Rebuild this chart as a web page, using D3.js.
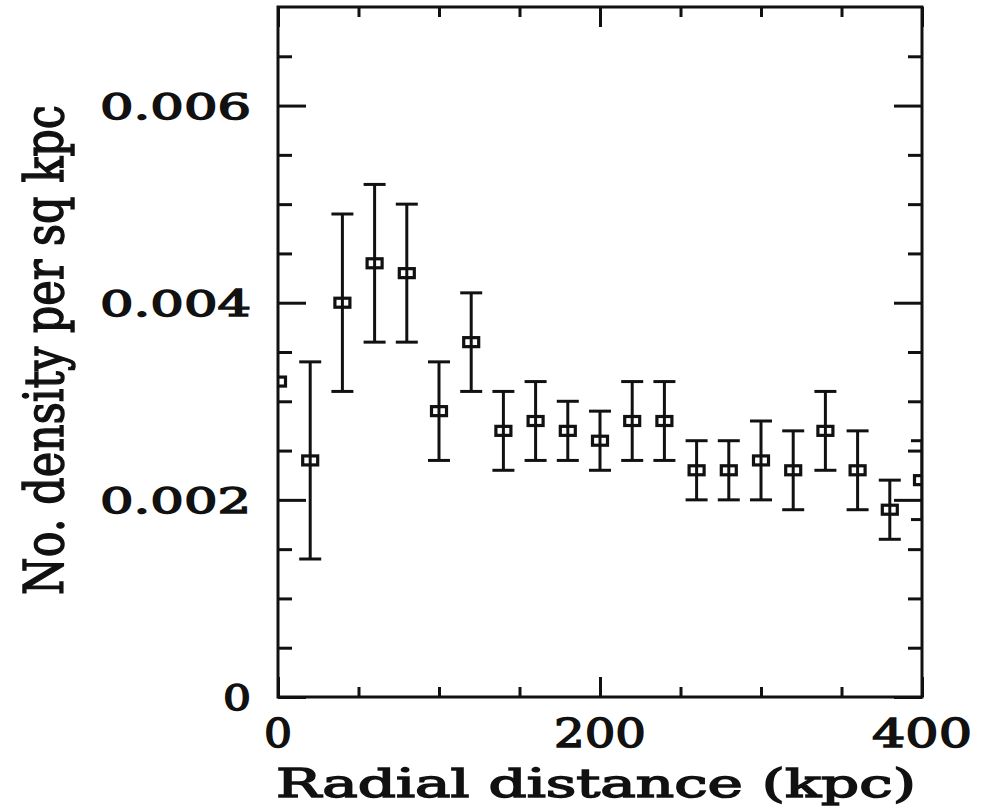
<!DOCTYPE html>
<html>
<head>
<meta charset="utf-8">
<script src="https://cdn.jsdelivr.net/npm/d3@7"></script>
<style>
  html, body { margin: 0; padding: 0; background: #fff; }
  svg { display: block; }
</style>
</head>
<body>
<svg id="chart" width="996" height="811"></svg>
<script>
// ---- data ----
const radius   = [0, 20, 40, 60, 80, 100, 120, 140, 160, 180, 200, 220, 240, 260, 280, 300, 320, 340, 360, 380, 400];
const density  = [0.0032, 0.0024, 0.0040, 0.0044, 0.0043, 0.0029, 0.0036, 0.0027, 0.0028, 0.0027, 0.0026, 0.0028, 0.0028, 0.0023, 0.0023, 0.0024, 0.0023, 0.0027, 0.0023, 0.0019, 0.0022];
const errUp    = [null, 0.0010, 0.0009, 0.0008, 0.0007, 0.0005, 0.0005, 0.0004, 0.0004, 0.0003, 0.0003, 0.0004, 0.0004, 0.0003, 0.0003, 0.0004, 0.0004, 0.0004, 0.0004, 0.0003, 0.0004];
const errDown  = [null, 0.0010, 0.0009, 0.0008, 0.0007, 0.0005, 0.0005, 0.0004, 0.0004, 0.0003, 0.0003, 0.0004, 0.0004, 0.0003, 0.0003, 0.0004, 0.0004, 0.0004, 0.0004, 0.0003, 0.0004];
const xTickLabels = ["0", "200", "400"];
const yTickLabels = ["0", "0.002", "0.004", "0.006"];
const xTitle = "Radial distance (kpc)";
const yTitle = "No. density per sq kpc";

// ---- layout ----
const L = 278, R = 922, T = 7, B = 697;
const svg = d3.select("#chart");
const x = d3.scaleLinear().domain([0, 400]).range([L, R]);
const y = d3.scaleLinear().domain([0, 0.007]).range([B, T]);

const xMajor = [0, 200, 400];
const xMinor = d3.range(50, 400, 50).filter(v => v % 200 !== 0);
const yMajor = [0, 0.002, 0.004, 0.006];
const yMinor = d3.range(1, 14).map(i => i * 0.0005).filter(v => Math.abs(v / 0.002 - Math.round(v / 0.002)) > 1e-6);

const ink = "#111";
const font = "'DejaVu Serif', serif";

// clip
svg.append("defs").append("clipPath").attr("id", "plot")
  .append("rect").attr("x", L).attr("y", T).attr("width", R - L).attr("height", B - T);

// ---- axes via d3 axis generators (ticks drawn inward) ----
function addAxis(gen, tr) {
  const g = svg.append("g").attr("transform", tr).call(gen);
  g.select(".domain").remove();
  g.selectAll("line").attr("stroke", ink).attr("stroke-width", 3);
  g.selectAll("text").remove();
  return g;
}
addAxis(d3.axisBottom(x).tickValues(xMajor).tickSize(-20), `translate(0,${B})`);
addAxis(d3.axisBottom(x).tickValues(xMinor).tickSize(-10), `translate(0,${B})`);
addAxis(d3.axisTop(x).tickValues(xMajor).tickSize(-20), `translate(0,${T})`);
addAxis(d3.axisTop(x).tickValues(xMinor).tickSize(-10), `translate(0,${T})`);
addAxis(d3.axisLeft(y).tickValues(yMajor).tickSize(-28), `translate(${L},0)`);
addAxis(d3.axisLeft(y).tickValues(yMinor).tickSize(-14), `translate(${L},0)`);
addAxis(d3.axisRight(y).tickValues(yMajor).tickSize(-28), `translate(${R},0)`);
addAxis(d3.axisRight(y).tickValues(yMinor).tickSize(-14), `translate(${R},0)`);

// frame
svg.append("rect").attr("x", L).attr("y", T).attr("width", R - L).attr("height", B - T)
  .attr("fill", "none").attr("stroke", ink).attr("stroke-width", 3);

// ---- data marks ----
const pts = radius.map((r, i) => ({ r, v: density[i], up: errUp[i], dn: errDown[i] }));
const g = svg.append("g").attr("clip-path", "url(#plot)");
const capW = 11;
const withErr = pts.filter(d => d.up != null);
g.selectAll("line.bar").data(withErr).join("line").attr("class", "bar")
  .attr("x1", d => x(d.r)).attr("x2", d => x(d.r))
  .attr("y1", d => y(d.v + d.up)).attr("y2", d => y(d.v - d.dn))
  .attr("stroke", ink).attr("stroke-width", 3);
g.selectAll("line.capT").data(withErr).join("line").attr("class", "capT")
  .attr("x1", d => x(d.r) - capW).attr("x2", d => x(d.r) + capW)
  .attr("y1", d => y(d.v + d.up)).attr("y2", d => y(d.v + d.up))
  .attr("stroke", ink).attr("stroke-width", 3);
g.selectAll("line.capB").data(withErr).join("line").attr("class", "capB")
  .attr("x1", d => x(d.r) - capW).attr("x2", d => x(d.r) + capW)
  .attr("y1", d => y(d.v - d.dn)).attr("y2", d => y(d.v - d.dn))
  .attr("stroke", ink).attr("stroke-width", 3);
g.selectAll("rect.pt").data(pts).join("rect").attr("class", "pt")
  .attr("x", d => x(d.r) - 7.5).attr("y", d => y(d.v) - 4.5)
  .attr("width", 15).attr("height", 9)
  .attr("fill", "none").attr("stroke", ink).attr("stroke-width", 3.2);

// ---- text helper: draw at origin, then scale along reading direction to a target length ----
function placeText(str, size, anchor, targetLen, pre) {
  const t = svg.append("text")
    .attr("x", 0).attr("y", 0)
    .attr("text-anchor", anchor)
    .attr("font-family", font).attr("font-weight", "normal").attr("font-size", size)
    .attr("fill", ink).attr("stroke", ink).attr("stroke-width", 1.5)
    .text(str);
  const nat = t.node().getComputedTextLength() || targetLen;
  const k = targetLen / nat;
  t.attr("transform", `${pre} scale(${k},1)`);
  return t;
}

// ---- tick labels ----
const xLabW = { "0": 28, "200": 92, "400": 100 };
xMajor.forEach((d, i) => {
  placeText(xTickLabels[i], 40, "middle", xLabW[xTickLabels[i]], `translate(${x(d)},747)`);
});
const yLabW = { "0": 28, "0.002": 151, "0.004": 151, "0.006": 151 };
yMajor.forEach((d, i) => {
  placeText(yTickLabels[i], 36, "end", yLabW[yTickLabels[i]], `translate(251,${y(d) + 13})`);
});

// ---- titles ----
placeText(xTitle, 40, "start", 640, "translate(276,797)");
placeText(yTitle, 54, "middle", 490, "translate(63,350) rotate(-90)");
</script>
</body>
</html>
